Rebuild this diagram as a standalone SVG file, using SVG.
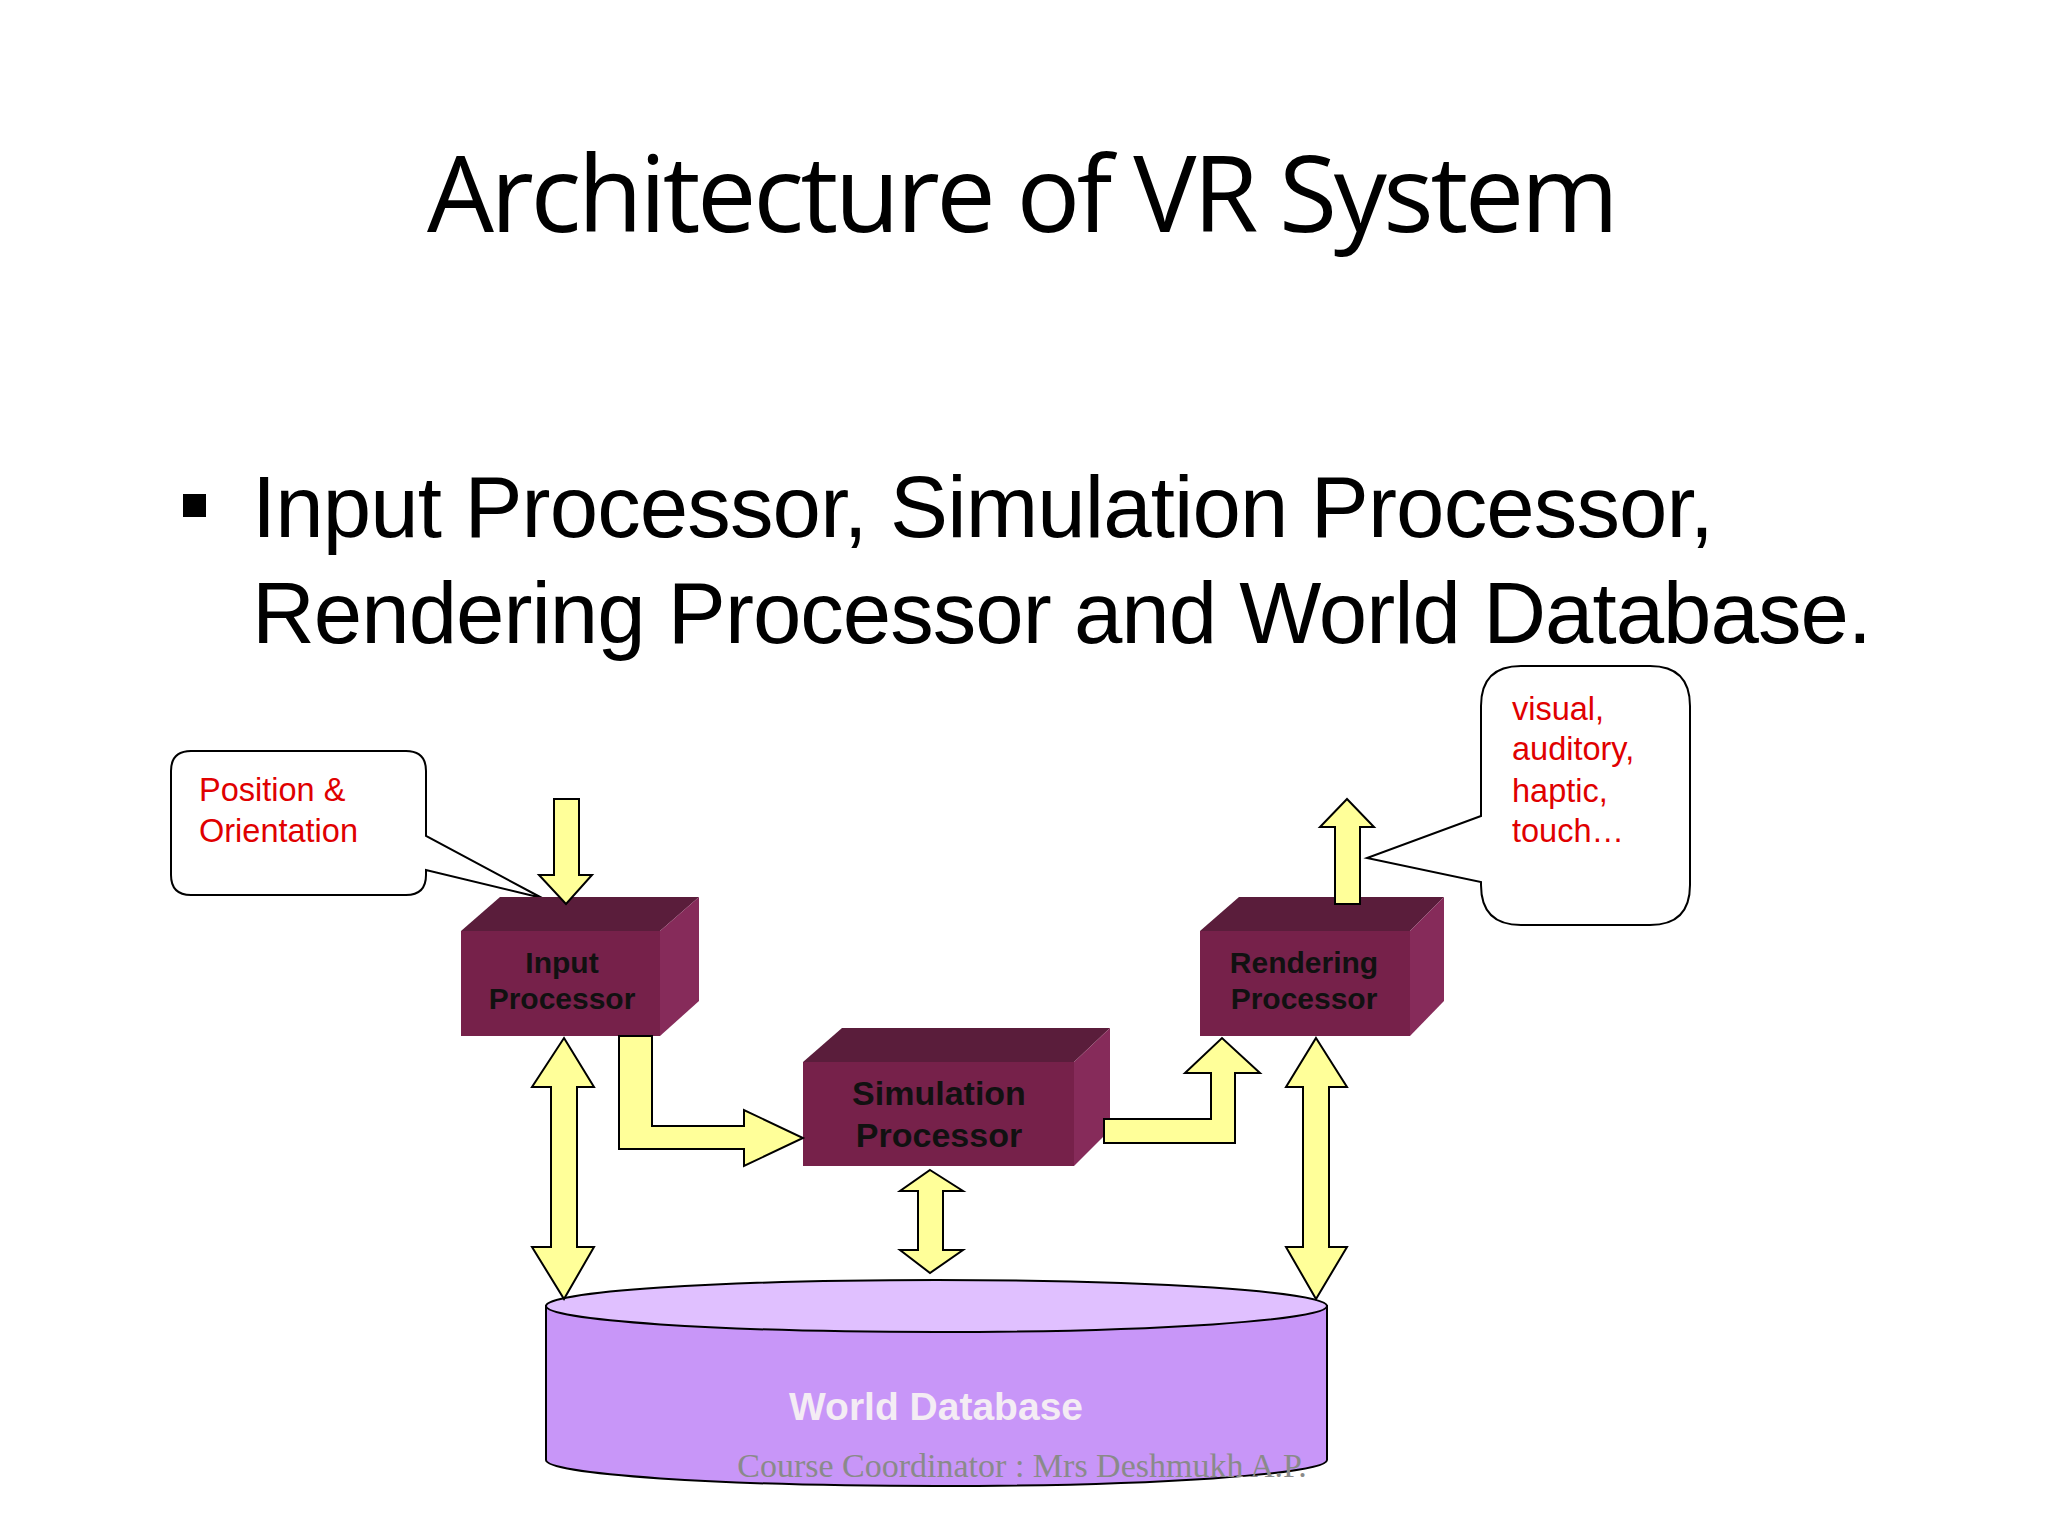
<svg xmlns="http://www.w3.org/2000/svg" width="2048" height="1536" viewBox="0 0 2048 1536">
<style>
.ar{fill:#ffff99;stroke:#000;stroke-width:2;stroke-linejoin:miter}
.call{fill:#fff;stroke:#000;stroke-width:2}
.red{font-family:"Liberation Sans",Arial,sans-serif;font-size:32.5px;fill:#e00000}
.lbl{font-family:"Liberation Sans",Arial,sans-serif;font-weight:bold;fill:#111;text-anchor:middle}
.front{fill:#76214a}.top{fill:#5a1d3b}.side{fill:#862b5a}
</style>
<rect width="2048" height="1536" fill="#fff"/>
<text x="1023" y="232" font-family="'Open Sans','Noto Sans',sans-serif" font-size="106" text-anchor="middle" textLength="1192" fill="#000">Architecture of VR System</text>
<rect x="183" y="494" width="23" height="23" fill="#000"/>
<text x="252" y="537" font-family="'Liberation Sans',Arial,sans-serif" font-size="87" textLength="1462" fill="#000">Input Processor, Simulation Processor,</text>
<text x="252" y="643" font-family="'Liberation Sans',Arial,sans-serif" font-size="87" textLength="1620" fill="#000">Rendering Processor and World Database.</text>

<g id="callout-position">
<path class="call" d="M191,751 H406 Q426,751 426,771 V836 L542,898 L426,870 V875 Q426,895 406,895 H191 Q171,895 171,875 V771 Q171,751 191,751 Z"/>
<text class="red" x="199" y="801">Position &amp;</text>
<text class="red" x="199" y="842">Orientation</text>
</g>
<g id="callout-output">
<path class="call" d="M1521,666 H1650 Q1690,666 1690,706 V885 Q1690,925 1650,925 H1521 Q1481,925 1481,885 V882 L1367,858 L1481,816 V706 Q1481,666 1521,666 Z"/>
<text class="red" x="1512" y="720">visual,</text>
<text class="red" x="1512" y="760">auditory,</text>
<text class="red" x="1512" y="802">haptic,</text>
<text class="red" x="1512" y="842">touch…</text>
</g>

<g id="world-database">
<path d="M546,1306 V1460 A390.5,26 0 0 0 1327,1460 V1306 Z" fill="#c896f8" stroke="#000" stroke-width="2"/>
<ellipse cx="936.5" cy="1306" rx="390.5" ry="26" fill="#e0c0ff" stroke="#000" stroke-width="2"/>
<text class="lbl" x="936" y="1420" font-size="39" style="fill:#f4ecf4">World Database</text>
</g>
<text x="1022" y="1477" font-family="'Liberation Serif','Times New Roman',serif" font-size="34" fill="#8a8a8a" text-anchor="middle">Course Coordinator : Mrs Deshmukh A.P.</text>

<g id="input-processor">
<polygon class="top" points="461,931 500,897 699,897 660,931"/>
<polygon class="side" points="660,931 699,897 699,1001 660,1036"/>
<rect class="front" x="461" y="931" width="199" height="105"/>
<text class="lbl" x="562" y="973" font-size="30">Input</text>
<text class="lbl" x="562" y="1009" font-size="30">Processor</text>
</g>
<g id="rendering-processor">
<polygon class="top" points="1200,931 1239,897 1444,897 1410,931"/>
<polygon class="side" points="1410,931 1444,897 1444,1001 1410,1036"/>
<rect class="front" x="1200" y="931" width="210" height="105"/>
<text class="lbl" x="1304" y="973" font-size="30">Rendering</text>
<text class="lbl" x="1304" y="1009" font-size="30">Processor</text>
</g>
<g id="simulation-processor">
<polygon class="top" points="803,1062 842,1028 1110,1028 1074,1062"/>
<polygon class="side" points="1074,1062 1110,1028 1110,1130 1074,1166"/>
<rect class="front" x="803" y="1062" width="271" height="104"/>
<text class="lbl" x="939" y="1105" font-size="34">Simulation</text>
<text class="lbl" x="939" y="1147" font-size="34">Processor</text>
</g>

<g id="connectors">
<polygon class="ar" points="554,799 579,799 579,875 592,875 566,904 539,875 554,875"/>
<polygon class="ar" points="564,1038 594,1087 577,1087 577,1247 594,1247 564,1299 532,1247 551,1247 551,1087 532,1087"/>
<polygon class="ar" points="619,1036 652,1036 652,1126 744,1126 744,1110 803,1138 744,1166 744,1149 619,1149"/>
<polygon class="ar" points="1104,1119 1211,1119 1211,1073 1185,1073 1222,1038 1260,1073 1235,1073 1235,1143 1104,1143"/>
<polygon class="ar" points="930,1170 963,1191 943,1191 943,1250 963,1250 930,1273 900,1250 918,1250 918,1191 900,1191"/>
<polygon class="ar" points="1316,1038 1347,1087 1329,1087 1329,1247 1347,1247 1316,1299 1286,1247 1303,1247 1303,1087 1286,1087"/>
<polygon class="ar" points="1335,904 1335,827 1320,827 1347,799 1374,827 1360,827 1360,904"/>
</g>
</svg>
